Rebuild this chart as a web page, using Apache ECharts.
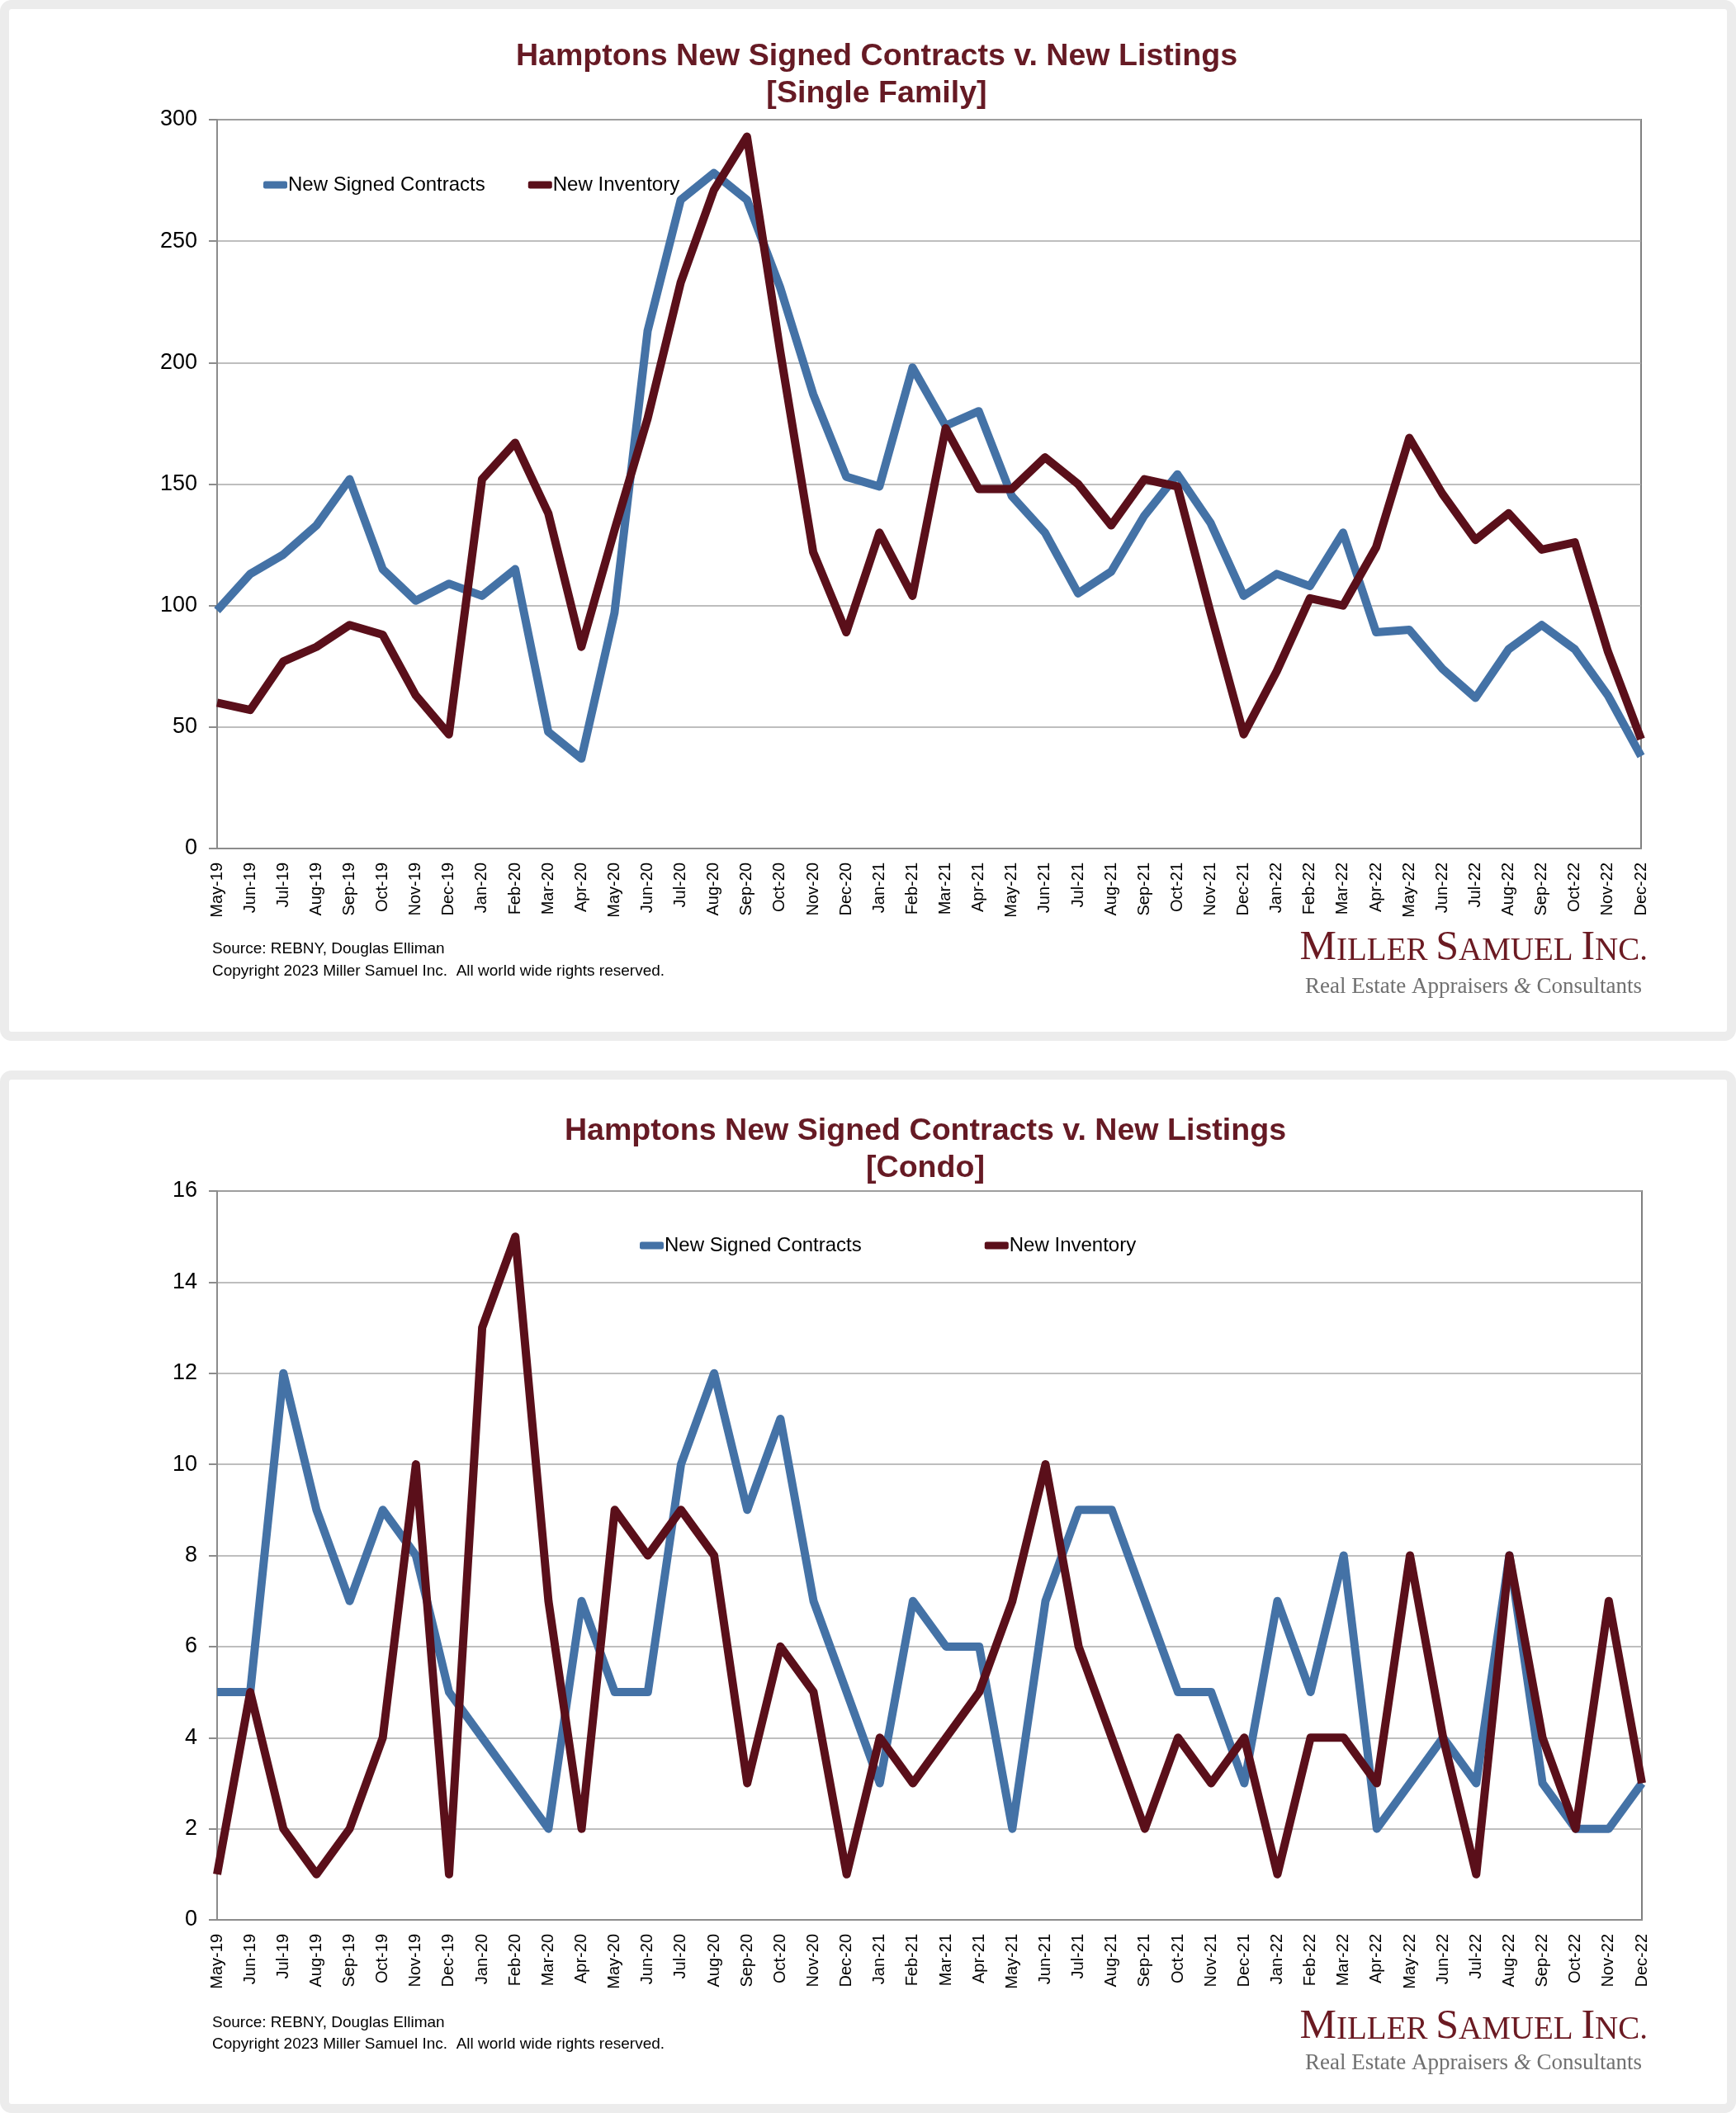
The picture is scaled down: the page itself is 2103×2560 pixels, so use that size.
<!DOCTYPE html>
<html>
<head>
<meta charset="utf-8">
<script src="https://cdn.jsdelivr.net/npm/echarts@6/dist/echarts.min.js"></script>
<style>
  html, body { margin:0; padding:0; background:#ffffff; }
  .frame { position:absolute; box-sizing:border-box; border:11px solid #ececec; border-radius:14px; background:#ffffff; }
  #c { position:absolute; left:0; top:0; width:2103px; height:2560px; }
</style>
</head>
<body>
<div class="frame" style="left:0;top:0;width:2103px;height:1261px;"></div>
<div class="frame" style="left:0;top:1297px;width:2103px;height:1263px;"></div>
<div id="c"></div>
<script>
// ---- Data ----
const categories = ['May-19','Jun-19','Jul-19','Aug-19','Sep-19','Oct-19','Nov-19','Dec-19',
  'Jan-20','Feb-20','Mar-20','Apr-20','May-20','Jun-20','Jul-20','Aug-20','Sep-20','Oct-20','Nov-20','Dec-20',
  'Jan-21','Feb-21','Mar-21','Apr-21','May-21','Jun-21','Jul-21','Aug-21','Sep-21','Oct-21','Nov-21','Dec-21',
  'Jan-22','Feb-22','Mar-22','Apr-22','May-22','Jun-22','Jul-22','Aug-22','Sep-22','Oct-22','Nov-22','Dec-22'];

const sfContracts = [98,113,121,133,152,115,102,109,104,115,48,37,97,213,267,278,267,231,187,153,149,198,174,180,145,130,105,114,137,154,134,104,113,108,130,89,90,74,62,82,92,82,63,38];
const sfInventory = [60,57,77,83,92,88,63,47,152,167,138,83,131,177,233,271,293,205,122,89,130,104,173,148,148,161,150,133,152,149,97,47,73,103,100,124,169,146,127,138,123,126,81,45];

const condoContracts = [5,5,12,9,7,9,8,5,4,3,2,7,5,5,10,12,9,11,7,5,3,7,6,6,2,7,9,9,7,5,5,3,7,5,8,2,3,4,3,8,3,2,2,3];
const condoInventory = [1,5,2,1,2,4,10,1,13,15,7,2,9,8,9,8,3,6,5,1,4,3,4,5,7,10,6,4,2,4,3,4,1,4,4,3,8,4,1,8,4,2,7,3];

const seriesNames = ['New Signed Contracts', 'New Inventory'];
const titleMain = 'Hamptons New Signed Contracts v. New Listings';
const subTitles = ['[Single Family]', '[Condo]'];
const sourceText = 'Source: REBNY, Douglas Elliman';
const copyrightText = 'Copyright 2023 Miller Samuel Inc.  All world wide rights reserved.';

// ---- Styles ----
const BLUE = '#4472a6';
const RED = '#5a0f1a';
const TITLE = '#661a24';
const SANS = '"Liberation Sans", Arial, Helvetica, sans-serif';
const SERIF = '"Liberation Serif", "Times New Roman", serif';

const chart = echarts.init(document.getElementById('c'), null, {width:2103, height:2560});

function xAxisCfg(gi) {
  return {
    type:'category', gridIndex:gi, data:categories, boundaryGap:false,
    axisLine:{show:true, lineStyle:{color:'#8c8c8c', width:2}},
    axisTick:{show:false},
    axisLabel:{rotate:90, interval:0, fontSize:20, margin:17, color:'#000', fontFamily:SANS},
    splitLine:{show:false}
  };
}
function yAxisCfg(gi, max, interval) {
  return {
    type:'value', gridIndex:gi, min:0, max:max, interval:interval,
    axisLine:{show:true, lineStyle:{color:'#8c8c8c', width:2}},
    axisTick:{show:true, length:10, inside:false, lineStyle:{color:'#8c8c8c', width:2}},
    axisLabel:{fontSize:27, margin:24, color:'#000', fontFamily:SANS},
    splitLine:{show:true, lineStyle:{color:'#a8a8a8', width:1.5}}
  };
}
function lineSeries(name, data, color, gi) {
  return {
    type:'line', name:name, data:data, xAxisIndex:gi, yAxisIndex:gi,
    showSymbol:false, symbol:'none', smooth:false,
    lineStyle:{color:color, width:10, join:'round', cap:'butt'},
    itemStyle:{color:color},
    emphasis:{disabled:true}, animation:false
  };
}
function legendCfg(left, top, gap) {
  return {
    data:seriesNames, left:left, top:top, padding:0, itemWidth:29, itemHeight:9, itemGap:gap,
    icon:'roundRect', textStyle:{fontSize:24, color:'#000', fontFamily:SANS, padding:[0,0,0,-4]},
    selectedMode:false
  };
}
function txt(x, y, text, opts) {
  return {
    type:'text', x:x, y:y, silent:true,
    style:Object.assign({text:text, fill:'#000', fontFamily:SANS, fontSize:19,
      align:'left', verticalAlign:'middle'}, opts || {})
  };
}
function logo(xRight, yCaps, yTag) {
  return [
    {
      type:'text', x:xRight, y:yCaps, silent:true,
      style:{
        text:'{b|M}{s|ILLER }{b|S}{s|AMUEL }{b|I}{s|NC.}',
        align:'right', verticalAlign:'middle', fill:'#6b1a22',
        rich:{
          b:{fontSize:50, fontFamily:SERIF, fill:'#6b1a22', verticalAlign:'bottom', lineHeight:52},
          s:{fontSize:39, fontFamily:SERIF, fill:'#6b1a22', verticalAlign:'bottom', lineHeight:52, padding:[0,0,2,0]}
        }
      }
    },
    {
      type:'text', x:xRight - 7, y:yTag, silent:true,
      style:{
        text:'{r|Real Estate Appraisers }{a|&}{r| Consultants}',
        align:'right', verticalAlign:'middle',
        rich:{
          r:{fontSize:27, fontFamily:SERIF, fill:'#707070'},
          a:{fontSize:27, fontFamily:SERIF, fontStyle:'italic', fill:'#707070'}
        }
      }
    }
  ];
}

const titleStyle = {fill:TITLE, fontFamily:SANS, fontSize:37.6, fontWeight:'bold', align:'center'};

const option = {
  animation:false,
  backgroundColor:'transparent',
  grid:[
    {left:263, top:145, width:1725, height:883, show:true, borderColor:'#7f7f7f', borderWidth:2, backgroundColor:'#ffffff', containLabel:false},
    {left:263, top:1443, width:1726, height:883, show:true, borderColor:'#7f7f7f', borderWidth:2, backgroundColor:'#ffffff', containLabel:false}
  ],
  xAxis:[xAxisCfg(0), xAxisCfg(1)],
  yAxis:[yAxisCfg(0, 300, 50), yAxisCfg(1, 16, 2)],
  legend:[legendCfg(319, 212, 52), legendCfg(775, 1497, 149)],
  series:[
    lineSeries(seriesNames[0], sfContracts, BLUE, 0),
    lineSeries(seriesNames[1], sfInventory, RED, 0),
    lineSeries(seriesNames[0], condoContracts, BLUE, 1),
    lineSeries(seriesNames[1], condoInventory, RED, 1)
  ],
  graphic:{elements:[
    txt(1062, 69, titleMain, titleStyle),
    txt(1062, 114, subTitles[0], titleStyle),
    txt(1121, 1371, titleMain, titleStyle),
    txt(1121, 1416, subTitles[1], titleStyle),
    txt(257, 1150, sourceText),
    txt(257, 1177, copyrightText),
    txt(257, 2451, sourceText),
    txt(257, 2477, copyrightText)
  ].concat(logo(1996, 1148, 1196)).concat(logo(1996, 2455, 2500))}
};
chart.setOption(option);
</script>
</body>
</html>
